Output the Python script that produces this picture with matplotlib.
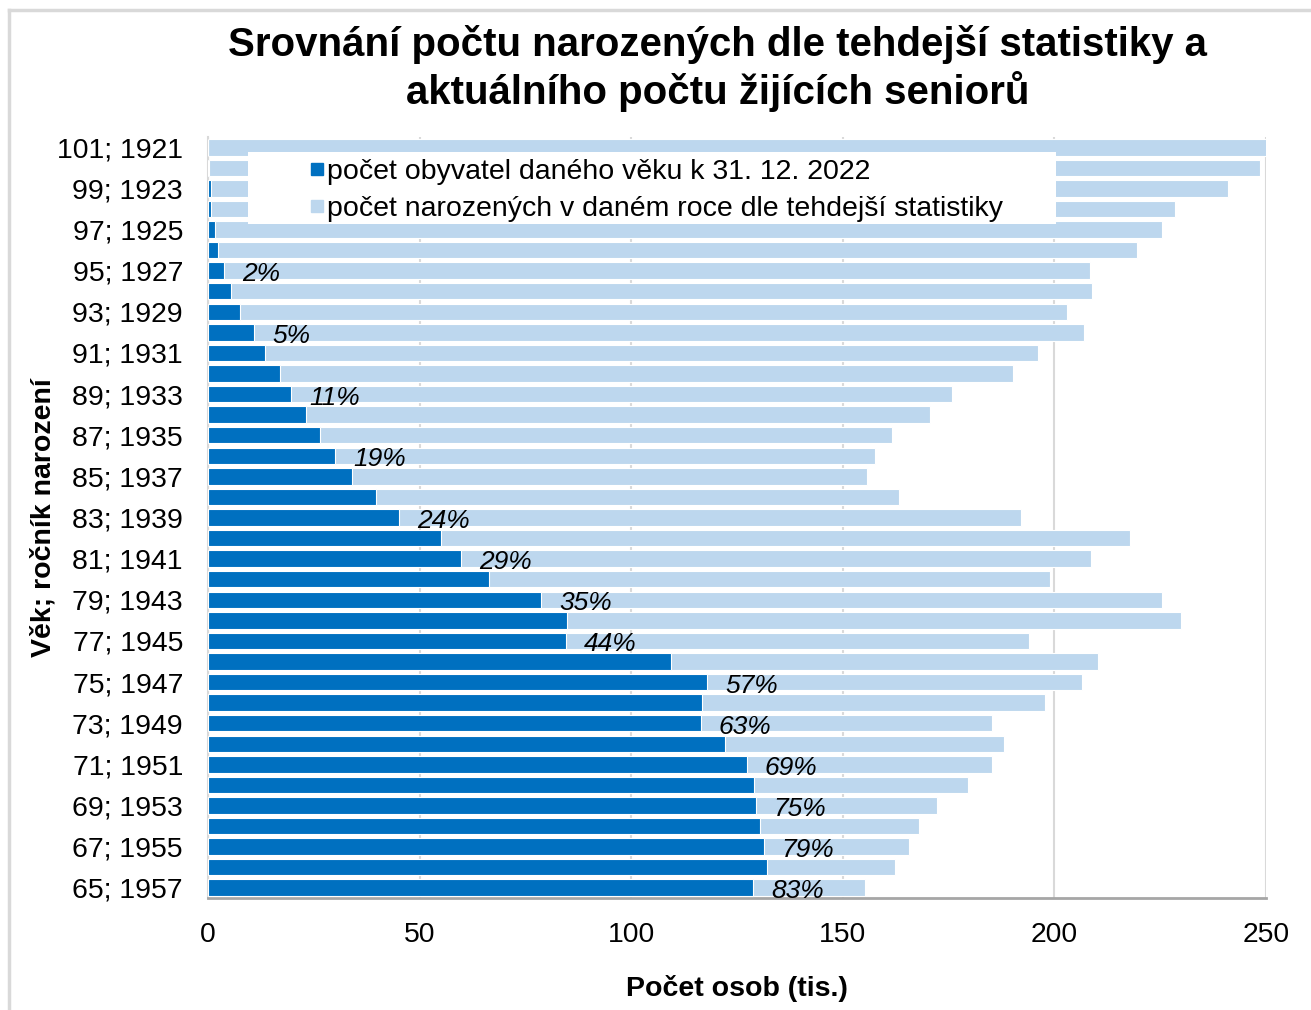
import matplotlib
matplotlib.use("Agg")
import matplotlib.pyplot as plt
from matplotlib.lines import Line2D
from matplotlib.patches import Rectangle

plt.rcParams['font.family'] = ['Liberation Sans', 'DejaVu Sans']

# vek (shora dolu) a rocnik narozeni
ages = [101, 100, 99, 98, 97, 96, 95, 94, 93, 92, 91, 90, 89, 88, 87, 86, 85, 84, 83,
        82, 81, 80, 79, 78, 77, 76, 75, 74, 73, 72, 71, 70, 69, 68, 67, 66, 65]
years = [1921, 1922, 1923, 1924, 1925, 1926, 1927, 1928, 1929, 1930, 1931, 1932, 1933,
         1934, 1935, 1936, 1937, 1938, 1939, 1940, 1941, 1942, 1943, 1944, 1945, 1946,
         1947, 1948, 1949, 1950, 1951, 1952, 1953, 1954, 1955, 1956, 1957]

# pocet narozenych dle tehdejsi statistiky (tis.)
births = [251.0, 248.7, 241.0, 228.6, 225.4, 219.5, 208.5, 208.8, 203.0, 207.1, 196.1,
          190.2, 175.8, 170.6, 161.6, 157.7, 155.7, 163.3, 192.1, 217.9, 208.6, 198.9,
          225.4, 229.9, 194.1, 210.3, 206.5, 197.8, 185.2, 188.2, 185.2, 179.7, 172.3,
          168.1, 165.6, 162.3, 155.2]
# pocet obyvatel daneho veku k 31. 12. 2022 (tis.)
living = [0.1, 0.3, 0.8, 0.8, 1.7, 2.3, 3.7, 5.4, 7.5, 10.9, 13.4, 16.9, 19.6, 23.1,
          26.5, 30.0, 34.0, 39.7, 45.2, 55.1, 59.9, 66.3, 78.7, 84.9, 84.6, 109.3,
          117.9, 116.7, 116.4, 122.2, 127.3, 129.1, 129.4, 130.4, 131.3, 132.1, 128.8]

label_ages = [95, 92, 89, 86, 83, 81, 79, 77, 75, 73, 71, 69, 67, 65]
label_texts = ['2%', '5%', '11%', '19%', '24%', '29%', '35%', '44%', '57%', '63%',
               '69%', '75%', '79%', '83%']

dark = '#0070C0'
light = '#BDD7EE'

fig = plt.figure(figsize=(13.11, 10.10), dpi=100)
ax = fig.add_axes([208 / 1311, 1 - 898 / 1010, 1058 / 1311, 761 / 1010])

pos = list(range(len(ages)))
ax.barh(pos, births, height=0.8, color=light, edgecolor='white', linewidth=0.8, zorder=2)
ax.barh(pos, living, height=0.8, color=dark, edgecolor='white', linewidth=0.8, zorder=3)

for a, t in zip(label_ages, label_texts):
    i = ages.index(a)
    ax.annotate(t, (living[i], i), xytext=(13, -2.5), textcoords='offset points',
                ha='left', va='center', fontsize=19, style='italic', color='black',
                zorder=4)

ax.set_xlim(0, 250)
ax.set_ylim(len(ages) - 0.5, -0.5)
ax.set_xticks([0, 50, 100, 150, 200, 250])
ax.set_yticks(pos[::2])
ax.set_yticklabels(['%d; %d' % (ages[i], years[i]) for i in pos[::2]])
ax.tick_params(axis='y', length=0, pad=18, labelsize=20.4)
ax.tick_params(axis='x', length=0, pad=17, labelsize=20.4)

ax.grid(axis='x', color='#D9D9D9', linewidth=1.5, zorder=0)
ax.set_axisbelow(True)
for s in ['top', 'right']:
    ax.spines[s].set_visible(False)
ax.spines['left'].set_color('#D9D9D9')
ax.spines['left'].set_linewidth(1.5)
ax.spines['bottom'].set_color('#A6A6A6')
ax.spines['bottom'].set_linewidth(2)

ax.set_xlabel('Počet osob (tis.)', fontsize=20.5, fontweight='bold', labelpad=20)
ax.set_ylabel('Věk; ročník narození', fontsize=20.5, fontweight='bold')
ax.yaxis.set_label_coords(-0.143, 0.5)

# legenda v bilem boxu
ax.add_patch(Rectangle((40 / 1058, 1 - 87 / 761), 808 / 1058, 72 / 761,
                       transform=ax.transAxes, facecolor='white', edgecolor='none',
                       zorder=5))
handles = [Line2D([], [], marker='s', linestyle='none', markersize=8, color=dark),
           Line2D([], [], marker='s', linestyle='none', markersize=8, color=light)]
leg = ax.legend(handles, ['počet obyvatel daného věku k 31. 12. 2022',
                          'počet narozených v daném roce dle tehdejší statistiky'],
                loc='upper left', bbox_to_anchor=(102 / 1058, 1 - 22 / 761),
                frameon=False, fontsize=20.5, handlelength=0.5, handletextpad=0.1,
                labelspacing=0.38, borderpad=0, borderaxespad=0)
leg.set_zorder(6)

fig.text(717.5 / 1311, 1 - 45 / 1010, 'Srovnání počtu narozených dle tehdejší statistiky a',
         ha='center', va='center', fontsize=29, fontweight='bold')
fig.text(717.5 / 1311, 1 - 91 / 1010, 'aktuálního počtu žijících seniorů',
         ha='center', va='center', fontsize=29, fontweight='bold')

# ramecek grafu (horni a leva hrana)
fig.add_artist(Line2D([9 / 1311, 1], [1 - 10 / 1010, 1 - 10 / 1010], color='#D9D9D9',
                      linewidth=2.5, transform=fig.transFigure))
fig.add_artist(Line2D([9 / 1311, 9 / 1311], [0, 1 - 10 / 1010], color='#D9D9D9',
                      linewidth=2.5, transform=fig.transFigure))

fig.savefig('out.png', dpi=100)
